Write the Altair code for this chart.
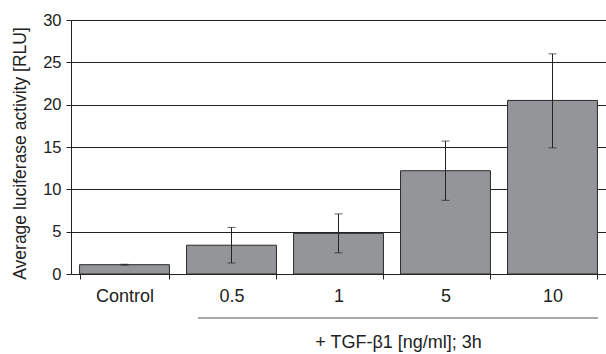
import altair as alt
import pandas as pd

categories = ["Control", "0.5", "1", "5", "10"]
means = [1.1, 3.4, 4.8, 12.2, 20.5]
err_low = [1.05, 1.3, 2.5, 8.7, 14.9]
err_high = [1.15, 5.5, 7.1, 15.7, 26.0]

df = pd.DataFrame({"cat": categories, "mean": means, "lo": err_low, "hi": err_high})

FONT = "Liberation Sans"

x_enc = alt.X(
    "cat:N",
    sort=categories,
    scale=alt.Scale(paddingInner=0.16, paddingOuter=0.08),
    axis=alt.Axis(
        title="+ TGF-\u03b21 [ng/ml]; 3h",
        titleX=327,
        titleY=68,
        titleAlign="center",
        titleBaseline="middle",
        titleFontSize=18,
        titleFontWeight="normal",
        titleFont=FONT,
        titleColor="#222222",
        labelAngle=0,
        labelFontSize=18,
        labelFont=FONT,
        labelColor="#222222",
        labelPadding=8,
        tickBand="extent",
        tickSize=5,
        tickColor="#222222",
        domainColor="#222222",
        grid=False,
    ),
)

y_enc = alt.Y(
    "mean:Q",
    scale=alt.Scale(domain=[0, 30], nice=False),
    axis=alt.Axis(
        title="Average luciferase activity [RLU]",
        values=[0, 5, 10, 15, 20, 25, 30],
        titleFontSize=17.5,
        titleFontWeight="normal",
        titleFont=FONT,
        titleColor="#222222",
        titlePadding=13,
        titleY=133,
        labelFontSize=16.5,
        labelFont=FONT,
        labelColor="#222222",
        labelPadding=5,
        tickSize=5,
        tickColor="#222222",
        domainColor="#222222",
        gridColor="#222222",
        gridOpacity=1,
        gridWidth=1,
    ),
)

base = alt.Chart(df)

bars = base.mark_bar(fill="#939598", stroke="#2a2a2a", strokeWidth=1).encode(x=x_enc, y=y_enc)

rules = base.mark_rule(color="#222222", strokeWidth=1).encode(
    x=alt.X("cat:N", sort=categories), y="lo:Q", y2="hi:Q"
)
cap_lo = base.mark_tick(color="#222222", thickness=1, size=8).encode(
    x=alt.X("cat:N", sort=categories), y="lo:Q"
)
cap_hi = base.mark_tick(color="#222222", thickness=1, size=8).encode(
    x=alt.X("cat:N", sort=categories), y="hi:Q"
)

bracket = alt.Chart(alt.Data(values=[{}])).mark_rule(color="#555555", strokeWidth=1).encode(
    x=alt.value(127), x2=alt.value(527), y=alt.value(298)
)

chart = (
    alt.layer(bars, rules, cap_lo, cap_hi, bracket)
    .properties(
        width=535,
        height=254,
        autosize=alt.AutoSizeParams(type="none"),
        padding={"left": 71, "top": 20, "right": 0, "bottom": 80},
    )
    .configure_view(stroke=None)
    .configure(background="white")
)

chart.save("out.html", embed_options={"renderer": "svg", "actions": False})
